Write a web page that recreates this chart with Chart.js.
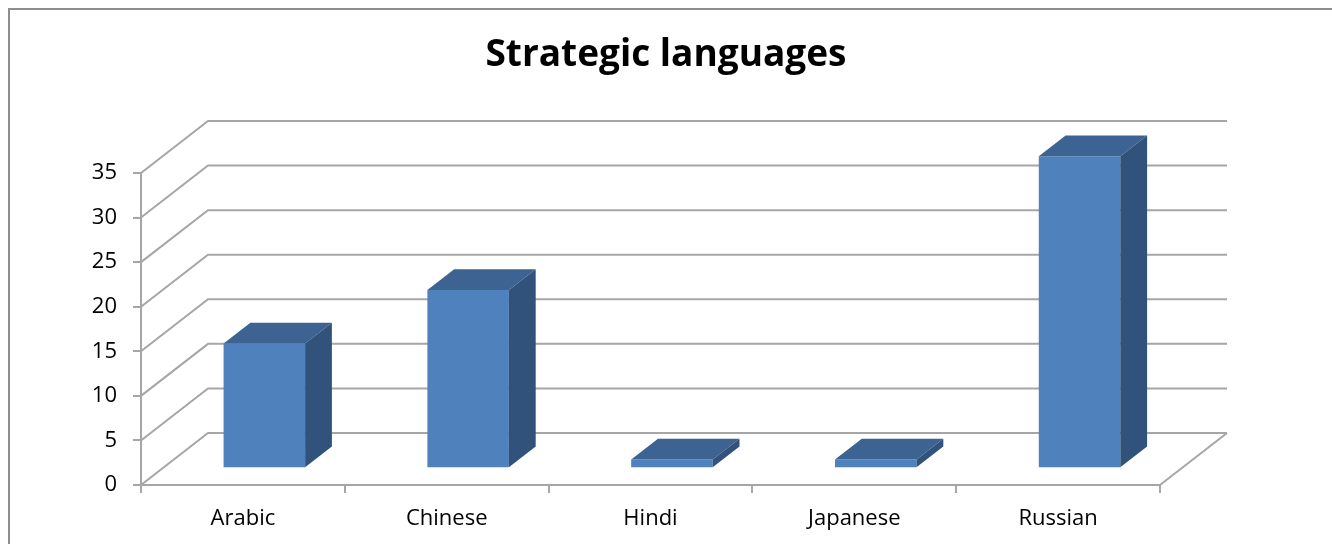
<!DOCTYPE html>
<html>
<head>
<meta charset="utf-8">
<script src="https://cdn.jsdelivr.net/npm/chart.js@4.4.1/dist/chart.umd.min.js"></script>
<style>
  html, body { margin: 0; padding: 0; background: #fff; }
  #grafico { display: block; }
</style>
</head>
<body>
<canvas id="grafico" width="1332" height="544"></canvas>
<script>
const categorias = ['Arabic', 'Chinese', 'Hindi', 'Japanese', 'Russian'];
const valores = [14, 20, 1, 1, 35];
const eixoMin = 0, eixoMax = 35, eixoPasso = 5;

// fake 3D: how deep the floor goes (px) and where the bars sit inside it
const PROF_X = 67, PROF_Y = -52;
const BARRA_INICIO = 0.32, BARRA_PROF = 0.4;
const COR_GRADE = '#a6a6a6';
const COR_FRENTE = '#4f81bd', COR_TOPO = '#3c6391', COR_LADO = '#31537b';
const FONTE = '"Open Sans", Lato, sans-serif';

const paredes3d = {
  id: 'paredes3d',
  beforeDraw(chart) {
    const ctx = chart.ctx;
    ctx.save();
    ctx.strokeStyle = '#8e8e8e';
    ctx.lineWidth = 2;
    ctx.strokeRect(9, 9, 1400, 600);
    ctx.restore();
  },
  beforeDatasetsDraw(chart) {
    const { ctx, chartArea: a, scales: { y } } = chart;
    ctx.save();
    ctx.strokeStyle = COR_GRADE;
    ctx.lineWidth = 2;
    y.ticks.forEach(t => {
      const py = y.getPixelForValue(t.value);
      ctx.beginPath();
      ctx.moveTo(a.left, py);
      ctx.lineTo(a.left + PROF_X, py + PROF_Y);
      ctx.lineTo(a.right + PROF_X, py + PROF_Y);
      ctx.stroke();
    });
    // right edge of the floor
    ctx.beginPath();
    ctx.moveTo(a.right, a.bottom);
    ctx.lineTo(a.right + PROF_X, a.bottom + PROF_Y);
    ctx.stroke();
    ctx.restore();

    // bars get pushed back into the floor, restored after drawing
    ctx.save();
    ctx.translate(PROF_X * BARRA_INICIO, PROF_Y * BARRA_INICIO);
  },
  afterDatasetsDraw(chart) {
    const ctx = chart.ctx;
    const dx = PROF_X * BARRA_PROF, dy = PROF_Y * BARRA_PROF;
    chart.getDatasetMeta(0).data.forEach(barra => {
      const { x, y, base, width } = barra.getProps(['x', 'y', 'base', 'width'], true);
      const esq = x - width / 2, dir = x + width / 2;
      ctx.fillStyle = COR_TOPO;
      ctx.beginPath();
      ctx.moveTo(esq, y);
      ctx.lineTo(esq + dx, y + dy);
      ctx.lineTo(dir + dx, y + dy);
      ctx.lineTo(dir, y);
      ctx.closePath();
      ctx.fill();
      ctx.fillStyle = COR_LADO;
      ctx.beginPath();
      ctx.moveTo(dir, y);
      ctx.lineTo(dir + dx, y + dy);
      ctx.lineTo(dir + dx, base + dy);
      ctx.lineTo(dir, base);
      ctx.closePath();
      ctx.fill();
    });
    ctx.restore();
  }
};

new Chart(document.getElementById('grafico'), {
  type: 'bar',
  data: {
    labels: categorias,
    datasets: [{
      data: valores,
      backgroundColor: COR_FRENTE,
      borderWidth: 0,
      barPercentage: 0.4,
      categoryPercentage: 1,
      clip: false
    }]
  },
  options: {
    responsive: false,
    animation: false,
    plugins: {
      legend: { display: false },
      tooltip: { enabled: false },
      title: {
        display: true,
        text: 'Strategic languages',
        color: '#000',
        font: { family: FONTE, size: 37, weight: 'bold' },
        padding: { top: 33, bottom: 95.6 }
      }
    },
    scales: {
      x: {
        grid: { drawOnChartArea: false, tickLength: 8, color: COR_GRADE, lineWidth: 2 },
        border: { color: COR_GRADE, width: 2 },
        ticks: { color: '#000', font: { family: FONTE, size: 22 }, padding: 13 },
        afterFit(s) { s.height = 59; }
      },
      y: {
        min: eixoMin,
        max: eixoMax,
        grid: { drawOnChartArea: false, tickLength: 8, color: COR_GRADE, lineWidth: 2 },
        border: { color: COR_GRADE, width: 2 },
        ticks: { stepSize: eixoPasso, color: '#000', font: { family: FONTE, size: 22 }, padding: 16 },
        afterFit(s) { s.width = 141; }
      },
      // empty right axis, only holds the space where the back wall sticks out
      direita: {
        type: 'linear',
        position: 'right',
        ticks: { display: false },
        grid: { display: false },
        border: { display: false },
        afterFit(s) { s.width = 172; }
      }
    }
  },
  plugins: [paredes3d]
});
</script>
</body>
</html>
